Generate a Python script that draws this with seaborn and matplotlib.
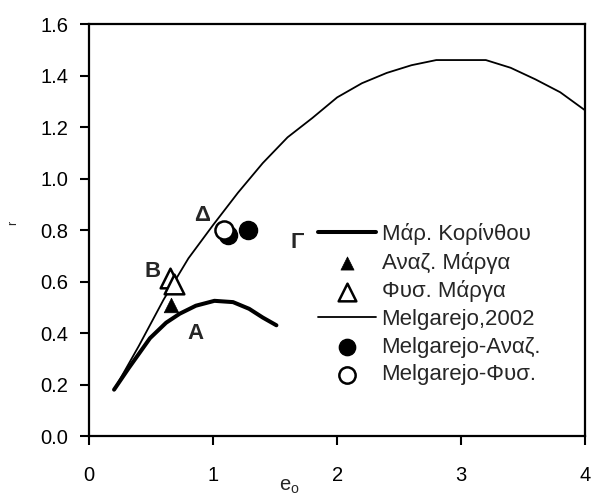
import matplotlib
matplotlib.use("Agg")
import matplotlib.pyplot as plt
import seaborn as sns

# Μάρ. Κορίνθου curve
kor_e = [0.20, 0.32, 0.49, 0.62, 0.73, 0.86, 1.01, 1.16, 1.29, 1.40, 1.51]
kor_r = [0.18, 0.265, 0.38, 0.44, 0.475, 0.506, 0.525, 0.52, 0.494, 0.46, 0.43]

# Melgarejo, 2002 curve
mel_e = [0.2, 0.4, 0.6, 0.8, 1.0, 1.2, 1.4, 1.6, 1.8, 2.0, 2.2, 2.4, 2.6, 2.8,
         3.0, 3.2, 3.4, 3.6, 3.8, 4.0]
mel_r = [0.18, 0.35, 0.53, 0.69, 0.82, 0.945, 1.06, 1.16, 1.235, 1.315, 1.37,
         1.41, 1.44, 1.46, 1.46, 1.46, 1.43, 1.385, 1.335, 1.265]

# Measured points
anaz_e = [0.66]
anaz_r = [0.51]
fys_e = [0.65, 0.68]
fys_r = [0.615, 0.59]
mel_anaz_e = [1.12, 1.28]
mel_anaz_r = [0.78, 0.80]
mel_fys_e = [1.09]
mel_fys_r = [0.80]

# Group tags
tag_text = ["A", "B", "Γ", "Δ"]
tag_e = [0.86, 0.51, 1.68, 0.91]
tag_r = [0.40, 0.64, 0.75, 0.855]

sns.set_style("ticks")
plt.rcParams["font.family"] = ["Liberation Sans", "DejaVu Sans"]
plt.rcParams["mathtext.fontset"] = "custom"
plt.rcParams["mathtext.rm"] = "Liberation Sans"

fig = plt.figure(figsize=(6.0, 4.97), dpi=100)
ax = fig.add_axes([0.1488, 0.1227, 0.8262, 0.829])

sns.lineplot(x=kor_e, y=kor_r, sort=False, color="black", lw=2.9,
             label="Μάρ. Κορίνθου", ax=ax)
sns.scatterplot(x=anaz_e, y=anaz_r, marker="^", s=110, color="black",
                edgecolor="black", linewidth=0.5, label="Αναζ. Μάργα", ax=ax, zorder=4)
sns.lineplot(x=mel_e, y=mel_r, sort=False, color="black", lw=1.3,
             label="Melgarejo,2002", ax=ax)
sns.scatterplot(x=fys_e, y=fys_r, marker="^", s=200, color="white",
                edgecolor="black", linewidth=1.8, label="Φυσ. Μάργα", ax=ax, zorder=4)
sns.scatterplot(x=mel_anaz_e, y=mel_anaz_r, marker="o", s=170, color="black",
                edgecolor="black", linewidth=1.0, label="Melgarejo-Αναζ.", ax=ax, zorder=4)
sns.scatterplot(x=mel_fys_e, y=mel_fys_r, marker="o", s=170, color="white",
                edgecolor="black", linewidth=1.8, label="Melgarejo-Φυσ.", ax=ax, zorder=5)

for t, xe, yr in zip(tag_text, tag_e, tag_r):
    ax.text(xe, yr, t, fontsize=16, fontweight="bold", ha="center", va="center")

ax.set_xlim(0, 4)
ax.set_ylim(0, 1.6)
ax.set_xticks([0, 1, 2, 3, 4])
ax.set_yticks([0.0, 0.2, 0.4, 0.6, 0.8, 1.0, 1.2, 1.4, 1.6])
ax.set_yticklabels([f"{v:.1f}" for v in ax.get_yticks()])
ax.tick_params(axis="both", direction="out", length=6.5, width=1.5,
               labelsize=14.5, color="black", labelcolor="black")
ax.tick_params(axis="x", pad=15)
ax.tick_params(axis="y", pad=8.5)
for sp in ax.spines.values():
    sp.set_visible(True)
    sp.set_linewidth(1.6)
    sp.set_color("black")

ax.set_xlabel(r"e$_\mathregular{o}$", fontsize=14.5)
ax.xaxis.set_label_coords(0.404, -0.10)
ax.set_ylabel("r", fontsize=9)
ax.yaxis.set_label_coords(-0.141, 0.518)

handles, labels = ax.get_legend_handles_labels()
order = ["Μάρ. Κορίνθου", "Αναζ. Μάργα", "Φυσ. Μάργα", "Melgarejo,2002",
         "Melgarejo-Αναζ.", "Melgarejo-Φυσ."]
hmap = dict(zip(labels, handles))
ax.legend([hmap[k] for k in order], order, loc="upper left",
          bbox_to_anchor=(0.4606, 0.517), frameon=False, fontsize=16,
          handlelength=2.65, handletextpad=0.23, labelspacing=0.3,
          borderpad=0, borderaxespad=0, markerscale=0.9)

fig.savefig("out.png", dpi=100, facecolor="white")
